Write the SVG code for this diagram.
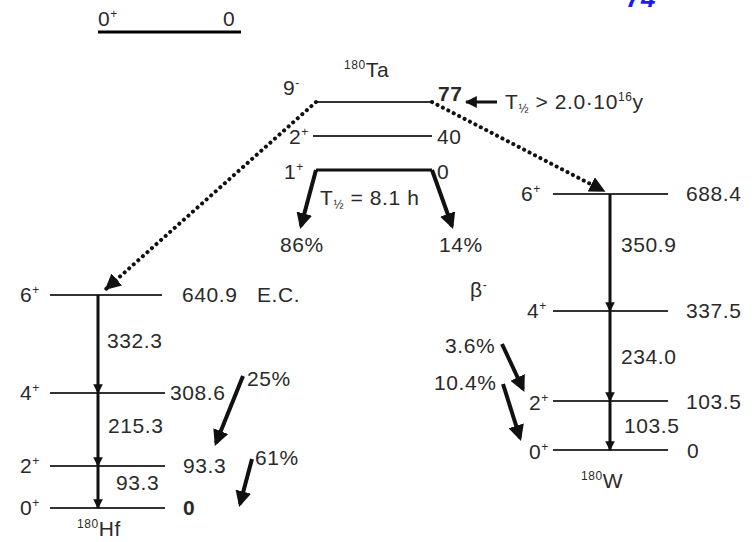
<svg xmlns="http://www.w3.org/2000/svg" width="754" height="542" viewBox="0 0 754 542">
<defs>
<style>
text{font-family:"Liberation Sans",Arial,sans-serif;font-size:21px;fill:#2a2a2a;letter-spacing:0.6px}
.sup{font-size:12px}
.lvl{stroke:#333;stroke-width:2;fill:none}
.g{stroke:#111;stroke-width:3;fill:none}
.b{stroke:#111;stroke-width:4;fill:none}
.dot{stroke:#111;stroke-width:4;fill:none;stroke-dasharray:0.1 6;stroke-linecap:round}
</style>
<marker id="sm" viewBox="0 0 10 10" refX="9" refY="5" markerWidth="3.2" markerHeight="3.2" orient="auto" markerUnits="strokeWidth"><path d="M0,0 L10,5 L0,10 z" fill="#111"/></marker>
<marker id="big" viewBox="0 0 10 10" refX="8" refY="5" markerWidth="4" markerHeight="4" orient="auto" markerUnits="strokeWidth"><path d="M0,0 L10,5 L0,10 z" fill="#111"/></marker>
<marker id="dm" viewBox="0 0 10 10" refX="9" refY="5" markerWidth="4" markerHeight="4" orient="auto" markerUnits="strokeWidth"><path d="M0,0 L10,5 L0,10 z" fill="#111"/></marker>
</defs>
<rect width="754" height="542" fill="#fff"/>

<g id="title-74"><text x="626" y="7" style="font-size:26px;font-weight:bold;font-style:italic;fill:#1a1aff">74</text></g>

<g id="legend">
<line x1="98" y1="32" x2="241" y2="32" stroke="#000" stroke-width="3"/>
<text x="98" y="26">0<tspan class="sup" dy="-8">+</tspan></text>
<text x="223" y="26">0</text>
</g>

<g id="Ta">
<text x="344" y="77"><tspan class="sup" dy="-8">180</tspan><tspan dy="8">Ta</tspan></text>
<line class="lvl" x1="316" y1="102" x2="432" y2="102"/>
<text x="283" y="95">9<tspan class="sup" dy="-8">-</tspan></text>
<text x="438" y="101" style="font-weight:bold">77</text>
<line class="lvl" x1="313" y1="136" x2="432" y2="136"/>
<text x="289" y="144">2<tspan class="sup" dy="-8">+</tspan></text>
<text x="437" y="144">40</text>
<text x="284" y="179">1<tspan class="sup" dy="-8">+</tspan></text>
<text x="437" y="179">0</text>
<path class="g" d="M316,170 L432,170"/>
<text x="320" y="205">T<tspan class="sup" dy="4">½</tspan><tspan dy="-4"> = 8.1 h</tspan></text>
<text x="505" y="109">T<tspan class="sup" dy="4">½</tspan><tspan dy="-4"> &gt; 2.0·10</tspan><tspan class="sup" dy="-8">16</tspan><tspan dy="8">y</tspan></text>
<text x="280" y="252">86%</text>
<text x="439" y="252">14%</text>
<text x="257" y="302">E.C.</text>
<text x="470" y="297">β<tspan class="sup" dy="-8">-</tspan></text>
</g>

<g id="Hf">
<line class="lvl" x1="50" y1="295" x2="162" y2="295"/>
<line class="lvl" x1="50" y1="393" x2="165" y2="393"/>
<line class="lvl" x1="50" y1="466" x2="165" y2="466"/>
<line class="lvl" x1="50" y1="508" x2="165" y2="508"/>
<text x="20" y="302">6<tspan class="sup" dy="-8">+</tspan></text>
<text x="20" y="400">4<tspan class="sup" dy="-8">+</tspan></text>
<text x="20" y="473">2<tspan class="sup" dy="-8">+</tspan></text>
<text x="20" y="515">0<tspan class="sup" dy="-8">+</tspan></text>
<text x="182" y="302">640.9</text>
<text x="170" y="400">308.6</text>
<text x="183" y="473">93.3</text>
<text x="183" y="515" style="font-weight:bold">0</text>
<text x="107" y="348">332.3</text>
<text x="108" y="433">215.3</text>
<text x="116" y="490">93.3</text>
<text x="77" y="536"><tspan class="sup" dy="-8">180</tspan><tspan dy="8">Hf</tspan></text>
<text x="247" y="386">25%</text>
<text x="255" y="465">61%</text>
</g>

<g id="W">
<line class="lvl" x1="553" y1="194" x2="668" y2="194"/>
<line class="lvl" x1="553" y1="311" x2="668" y2="311"/>
<line class="lvl" x1="553" y1="401" x2="668" y2="401"/>
<line class="lvl" x1="553" y1="450" x2="668" y2="450"/>
<text x="521" y="201">6<tspan class="sup" dy="-8">+</tspan></text>
<text x="527" y="318">4<tspan class="sup" dy="-8">+</tspan></text>
<text x="529" y="410">2<tspan class="sup" dy="-8">+</tspan></text>
<text x="529" y="459">0<tspan class="sup" dy="-8">+</tspan></text>
<text x="686" y="201">688.4</text>
<text x="686" y="318">337.5</text>
<text x="686" y="409">103.5</text>
<text x="687" y="458">0</text>
<text x="621" y="252">350.9</text>
<text x="621" y="364">234.0</text>
<text x="624" y="433">103.5</text>
<text x="581" y="488"><tspan class="sup" dy="-8">180</tspan><tspan dy="8">W</tspan></text>
<text x="445" y="353">3.6%</text>
<text x="434" y="390">10.4%</text>
</g>

<g id="connectors">
<line class="dot" x1="316" y1="102" x2="106" y2="289" marker-end="url(#dm)"/>
<line class="dot" x1="432" y1="102" x2="604" y2="191" marker-end="url(#dm)"/>
<line class="g" x1="497" y1="102" x2="466" y2="102" marker-end="url(#dm)"/>
<path class="b" d="M316,170 L301,226" marker-end="url(#big)"/>
<path class="b" d="M432,170 L452,226" marker-end="url(#big)"/>
<line class="g" x1="98" y1="295" x2="98" y2="393" marker-end="url(#sm)"/>
<line class="g" x1="98" y1="393" x2="98" y2="466" marker-end="url(#sm)"/>
<line class="g" x1="98" y1="466" x2="98" y2="508" marker-end="url(#sm)"/>
<line class="g" x1="610" y1="194" x2="610" y2="311" marker-end="url(#sm)"/>
<line class="g" x1="610" y1="311" x2="610" y2="401" marker-end="url(#sm)"/>
<line class="g" x1="610" y1="401" x2="610" y2="450" marker-end="url(#sm)"/>
<line class="b" x1="243" y1="376" x2="216" y2="443" marker-end="url(#big)"/>
<line class="b" x1="252" y1="459" x2="240" y2="504" marker-end="url(#big)"/>
<line class="b" x1="502" y1="344" x2="523" y2="389" marker-end="url(#big)"/>
<line class="b" x1="503" y1="384" x2="520" y2="438" marker-end="url(#big)"/>
</g>
</svg>
